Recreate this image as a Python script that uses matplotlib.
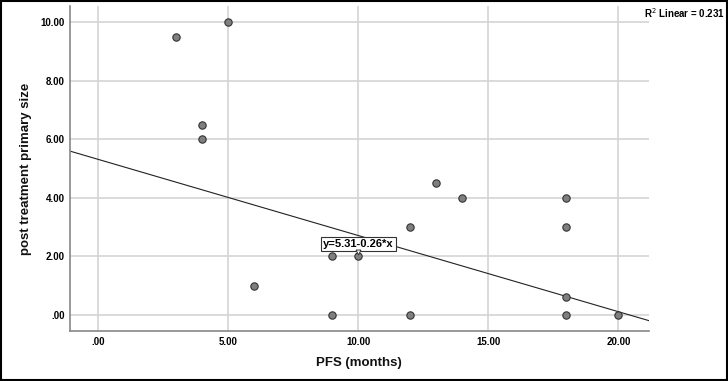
import matplotlib
matplotlib.use("Agg")
import matplotlib.pyplot as plt
from matplotlib.patches import Rectangle

pfs = [3, 5, 4, 4, 6, 9, 9, 10, 12, 12, 13, 14, 18, 18, 18, 18, 20]
size = [9.5, 10, 6.5, 6, 1, 2, 0, 2, 3, 0, 4.5, 4, 4, 3, 0.6, 0, 0]
intercept = 5.31
slope = -0.26
r2 = 0.231
xticks = [0, 5, 10, 15, 20]
xticklabels = [".00", "5.00", "10.00", "15.00", "20.00"]
yticks = [0, 2, 4, 6, 8, 10]
yticklabels = [".00", "2.00", "4.00", "6.00", "8.00", "10.00"]

plt.rcParams['font.family'] = ['Liberation Sans', 'DejaVu Sans']

fig = plt.figure(figsize=(7.28, 3.81), dpi=100)
ax = fig.add_axes([0.0962, 0.1312, 0.7953, 0.8531])
xlim = (-1.09, 21.18)
ylim = (-0.55, 10.55)
ax.set_xlim(*xlim)
ax.set_ylim(*ylim)

ax.grid(True, color='#d4d4d4', linewidth=1.2)
ax.set_axisbelow(True)

xs = [xlim[0], xlim[1]]
ax.plot(xs, [intercept + slope * x for x in xs], color='#222222', linewidth=0.8, zorder=2)

ax.scatter(pfs, size, s=28, facecolor='#7f7f7f', edgecolor='#333333', linewidth=0.8, zorder=3)

ax.set_xticks(xticks)
ax.set_xticklabels(xticklabels, fontsize=7, fontweight='bold')
ax.set_yticks(yticks)
ax.set_yticklabels(yticklabels, fontsize=7, fontweight='bold')
ax.tick_params(axis='x', length=0, pad=4)
ax.tick_params(axis='y', length=0, pad=4)

for s in ['top', 'right']:
    ax.spines[s].set_visible(False)
for s in ['left', 'bottom']:
    ax.spines[s].set_color('#888888')
    ax.spines[s].set_linewidth(1.2)

fig.text(358.5 / 728, 1 - 363 / 381, "PFS (months)", fontsize=9.5, fontweight='bold',
         color='#111111', ha='center', va='center')
fig.text(26 / 728, 1 - 168.5 / 381, "post treatment primary size", fontsize=9.5, fontweight='bold',
         color='#111111', rotation=90, ha='center', va='center')

ax.text(10.0, 2.43, "y=5.31-0.26*x", fontsize=8, fontweight='bold', ha='center', va='center',
        bbox=dict(boxstyle='square,pad=0.2', facecolor='white', edgecolor='#333333', linewidth=0.8), zorder=4)
ax.plot([10], [2.16], marker='v', markersize=3.5, markerfacecolor='white', markeredgecolor='#333333',
        markeredgewidth=0.7, zorder=4)

fig.text(0.996, 1 - 13 / 381, r"R$^2$ Linear = %.3f" % r2, fontsize=7, fontweight='bold',
         ha='right', va='center')

fig.patches.append(Rectangle((0.001, 0.002), 0.997, 0.995, transform=fig.transFigure,
                             fill=False, edgecolor='black', linewidth=1.5))

fig.savefig("out.png", dpi=100)
